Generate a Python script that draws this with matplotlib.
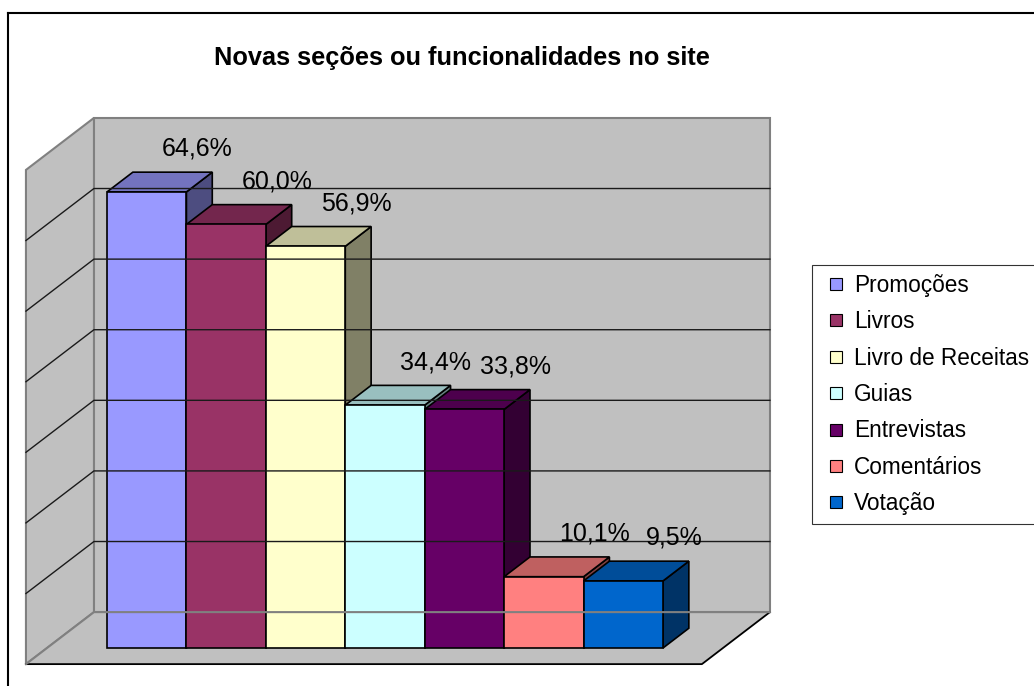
import matplotlib
matplotlib.use('Agg')
import matplotlib.pyplot as plt
from matplotlib.patches import Polygon
from matplotlib.lines import Line2D
from matplotlib.colors import to_rgb

title = "Novas seções ou funcionalidades no site"
categories = ['Promoções', 'Livros', 'Livro de Receitas', 'Guias',
              'Entrevistas', 'Comentários', 'Votação']
values = [64.6, 60.0, 56.9, 34.4, 33.8, 10.1, 9.5]
colors = ['#9999FF', '#993366', '#FFFFCC', '#CCFFFF', '#660066', '#FF8080', '#0066CC']
y_max = 70
y_step = 10

plt.rcParams['font.family'] = ['Liberation Sans', 'DejaVu Sans']

W, H = 1034, 686
fig = plt.figure(figsize=(W / 100, H / 100), dpi=100)
ax = fig.add_axes([0, 0, 1, 1])
ax.axis('off')

# scales of the plane holding the bar fronts
px_x = 79.43   # px per category
px_y = 7.06    # px per percent
x0_px, y0_px = 107, 648
ax.set_xlim(-x0_px / px_x, (W - x0_px) / px_x)
ax.set_ylim(-(H - y0_px) / px_y, y0_px / px_y)

# fake 3d: floor depth and where the bars sit in it
DX = 68 / px_x
DY = 52 / px_y
t_bar = 0.31
t_back = 0.69
gap = 0.755
xl = -gap
xr = len(values) + gap


def pt(x, y, t):
    return (x + (t - t_bar) * DX, y + (t - t_bar) * DY)


wall = '#C0C0C0'
edge = '#808080'

# back wall, side wall, floor
ax.add_patch(Polygon([pt(xl, 0, 1), pt(xr, 0, 1), pt(xr, y_max, 1), pt(xl, y_max, 1)],
                     closed=True, facecolor=wall, edgecolor=edge, lw=1.5))
ax.add_patch(Polygon([pt(xl, 0, 0), pt(xl, 0, 1), pt(xl, y_max, 1), pt(xl, y_max, 0)],
                     closed=True, facecolor=wall, edgecolor=edge, lw=1.5))
ax.add_patch(Polygon([pt(xl, 0, 0), pt(xr, 0, 0), pt(xr, 0, 1), pt(xl, 0, 1)],
                     closed=True, facecolor=wall, edgecolor='none'))
# floor edges
fl = [pt(xl, 0, 0), pt(xr, 0, 0), pt(xr, 0, 1)]
ax.plot([p[0] for p in fl], [p[1] for p in fl], color='black', lw=1.3)
bl = [pt(xl, 0, 0), pt(xl, 0, 1), pt(xr, 0, 1)]
ax.plot([p[0] for p in bl], [p[1] for p in bl], color=edge, lw=1.5)

# gridlines
for v in range(y_step, y_max, y_step):
    a, b, c = pt(xl, v, 0), pt(xl, v, 1), pt(xr, v, 1)
    ax.plot([a[0], b[0], c[0]], [a[1], b[1], c[1]], color='#1a1a1a', lw=1.0)

# bars
bx = (t_back - t_bar) * DX
by = (t_back - t_bar) * DY
for i, (v, c) in enumerate(zip(values, colors)):
    rgb = to_rgb(c)
    top_c = tuple(k * 0.75 for k in rgb)
    side_c = tuple(k * 0.5 for k in rgb)
    front = [(i, 0), (i + 1, 0), (i + 1, v), (i, v)]
    top = [(i, v), (i + 1, v), (i + 1 + bx, v + by), (i + bx, v + by)]
    side = [(i + 1, 0), (i + 1 + bx, by), (i + 1 + bx, v + by), (i + 1, v)]
    for poly, fc in [(side, side_c), (top, top_c), (front, rgb)]:
        ax.add_patch(Polygon(poly, closed=True, facecolor=fc, edgecolor='black',
                             lw=1.2, joinstyle='miter'))
    ax.text(i + 0.5 + 0.64, v + by + 3.3, f"{v:.1f}".replace('.', ',') + '%',
            ha='center', va='center', fontsize=18)

# title
fig.text(462 / W, 1 - 58 / H, title, ha='center', va='center',
         fontsize=18.3, fontweight='bold')

# legend
handles = [Line2D([], [], marker='s', ls='none', markersize=8, markerfacecolor=c,
                  markeredgecolor='black', markeredgewidth=0.8) for c in colors]
leg = ax.legend(handles, categories, loc='upper left',
                bbox_to_anchor=(812 / W, 1 - 265 / H), bbox_transform=fig.transFigure,
                fontsize=16.3, frameon=True, fancybox=False, edgecolor='black',
                borderpad=0.4, borderaxespad=0, handlelength=1.3,
                handletextpad=0.15, labelspacing=0.59)
leg.get_frame().set_linewidth(0.8)

# chart border (only left/top visible)
fig.add_artist(Line2D([8 / W, 8 / W], [0, 1 - 13 / H], transform=fig.transFigure,
                      color='black', lw=1.5))
fig.add_artist(Line2D([8 / W, 1], [1 - 13 / H, 1 - 13 / H], transform=fig.transFigure,
                      color='black', lw=1.5))

fig.savefig('out.png', dpi=100)
